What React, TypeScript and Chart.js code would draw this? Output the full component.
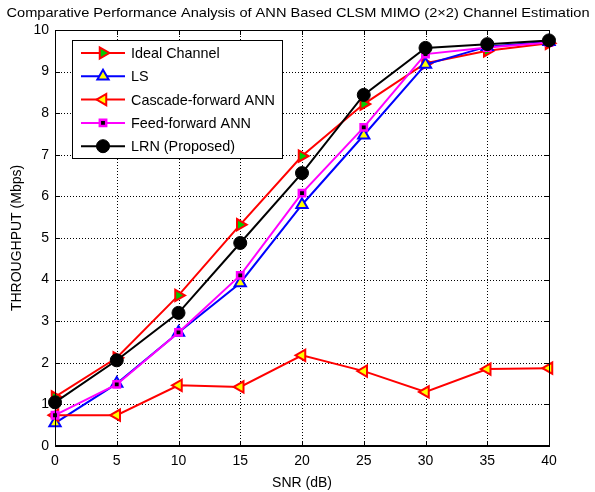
import React, { useEffect, useRef } from "react";
import { Chart, registerables } from "chart.js";

Chart.register(...registerables);

const snr = [0, 5, 10, 15, 20, 25, 30, 35, 40];
const idealChannel = [1.18, 2.12, 3.62, 5.32, 6.97, 8.22, 9.2, 9.5, 9.68];
const lsValues = [0.55, 1.5, 2.73, 3.92, 5.8, 7.47, 9.17, 9.6, 9.72];
const cascadeAnn = [0.74, 0.74, 1.46, 1.42, 2.18, 1.8, 1.3, 1.85, 1.87];
const feedAnn = [0.74, 1.48, 2.73, 4.1, 6.08, 7.66, 9.42, 9.58, 9.7];
const lrnValues = [1.05, 2.06, 3.2, 4.88, 6.56, 8.44, 9.57, 9.66, 9.75];

const seriesNames = ["Ideal Channel", "LS", "Cascade-forward ANN", "Feed-forward ANN", "LRN (Proposed)"];
const titleText = "Comparative Performance Analysis of ANN Based CLSM MIMO (2\u00d72) Channel Estimation";
const xTitle = "SNR (dB)";
const yTitle = "THROUGHPUT (Mbps)";

const FONT = "Arial, 'Liberation Sans', sans-serif";

type Style = { line: string; fill: string; stroke: string; shape: string; rot: number; r: number; bw: number };
const styles: Style[] = [
  { line: "#ff0000", fill: "#00cc00", stroke: "#ff0000", shape: "triangle", rot: 90, r: 6.5, bw: 2 },
  { line: "#0000ff", fill: "#ffff00", stroke: "#0000ff", shape: "triangle", rot: 0, r: 6.5, bw: 2 },
  { line: "#ff0000", fill: "#ffff00", stroke: "#ff0000", shape: "triangle", rot: -90, r: 6.5, bw: 2 },
  { line: "#ff00ff", fill: "#000000", stroke: "#ff00ff", shape: "rect", rot: 0, r: 4.5, bw: 2.5 },
  { line: "#000000", fill: "#000000", stroke: "#000000", shape: "circle", rot: 0, r: 6.5, bw: 1 },
];

function drawMarker(ctx: CanvasRenderingContext2D, s: Style, x: number, y: number) {
  ctx.save();
  ctx.fillStyle = s.fill;
  ctx.strokeStyle = s.stroke;
  ctx.lineWidth = s.bw;
  ctx.setLineDash([]);
  ctx.beginPath();
  if (s.shape === "circle") {
    ctx.arc(x, y, s.r, 0, Math.PI * 2);
  } else if (s.shape === "rect") {
    const h = s.r * Math.SQRT1_2;
    ctx.rect(x - h, y - h, 2 * h, 2 * h);
  } else {
    let a = (s.rot * Math.PI) / 180;
    for (let i = 0; i < 3; i++) {
      const px = x + Math.sin(a) * s.r;
      const py = y - Math.cos(a) * s.r;
      if (i === 0) ctx.moveTo(px, py);
      else ctx.lineTo(px, py);
      a += (2 * Math.PI) / 3;
    }
    ctx.closePath();
  }
  ctx.fill();
  ctx.stroke();
  ctx.restore();
}

const decorPlugin = {
  id: "decor",
  beforeDatasetsDraw(chart: any) {
    // dotted grid
    const { ctx, chartArea } = chart;
    const { left, right, top, bottom } = chartArea;
    const xs = chart.scales.x;
    const ys = chart.scales.y;
    ctx.save();
    ctx.strokeStyle = "#000";
    ctx.lineWidth = 1;
    ctx.setLineDash([1, 2]);
    ctx.beginPath();
    for (const v of snr) {
      const px = Math.round(xs.getPixelForValue(v)) + 0.5;
      ctx.moveTo(px, top);
      ctx.lineTo(px, bottom);
    }
    for (let v = 0; v <= 10; v++) {
      const py = Math.round(ys.getPixelForValue(v)) + 0.5;
      ctx.moveTo(left, py);
      ctx.lineTo(right, py);
    }
    ctx.stroke();
    ctx.restore();
  },
  afterDatasetsDraw(chart: any) {
    const { ctx, chartArea } = chart;
    const { left, right, top, bottom } = chartArea;
    const xs = chart.scales.x;
    const ys = chart.scales.y;
    ctx.save();
    // box
    ctx.strokeStyle = "#000";
    ctx.lineWidth = 1;
    ctx.setLineDash([]);
    ctx.strokeRect(left + 0.5, top + 0.5, right - left, bottom - top);
    ctx.lineWidth = 2;
    ctx.beginPath();
    ctx.moveTo(left, bottom);
    ctx.lineTo(right + 1, bottom);
    ctx.stroke();
    // inward ticks
    ctx.lineWidth = 1;
    ctx.beginPath();
    for (const v of snr) {
      const px = Math.round(xs.getPixelForValue(v)) + 0.5;
      ctx.moveTo(px, bottom);
      ctx.lineTo(px, bottom - 5);
      ctx.moveTo(px, top);
      ctx.lineTo(px, top + 5);
    }
    for (let v = 0; v <= 10; v++) {
      const py = Math.round(ys.getPixelForValue(v)) + 0.5;
      ctx.moveTo(left, py);
      ctx.lineTo(left + 5, py);
      ctx.moveTo(right, py);
      ctx.lineTo(right - 5, py);
    }
    ctx.stroke();

    // legend
    const lx = 72, ly = 40, lw = 210, lh = 118;
    ctx.fillStyle = "#fff";
    ctx.fillRect(lx, ly, lw, lh);
    ctx.strokeStyle = "#000";
    ctx.lineWidth = 1;
    ctx.strokeRect(lx + 0.5, ly + 0.5, lw, lh);
    ctx.font = `14.4px ${FONT}`;
    ctx.textBaseline = "middle";
    ctx.textAlign = "left";
    seriesNames.forEach((name, i) => {
      const s = styles[i];
      const cy = ly + 13 + i * 23.3;
      ctx.strokeStyle = s.line;
      ctx.lineWidth = 2;
      ctx.beginPath();
      ctx.moveTo(81, cy);
      ctx.lineTo(125, cy);
      ctx.stroke();
      drawMarker(ctx, s, 103, cy);
      ctx.fillStyle = "#000";
      ctx.fillText(name, 131, cy + 1);
    });

    // titles
    ctx.fillStyle = "#000";
    ctx.font = `13px ${FONT}`;
    ctx.textAlign = "center";
    ctx.textBaseline = "middle";
    const tw = ctx.measureText(titleText).width;
    const target = 583;
    ctx.save();
    ctx.translate(298, 13);
    ctx.scale(target / tw, 1);
    ctx.fillText(titleText, 0, 0);
    ctx.restore();

    ctx.font = `14px ${FONT}`;
    ctx.fillText(xTitle, (left + right) / 2, 483);
    ctx.save();
    ctx.translate(17, (top + bottom) / 2);
    ctx.rotate(-Math.PI / 2);
    ctx.fillText(yTitle, 0, 0);
    ctx.restore();
    ctx.restore();
  },
};

export default function App() {
  const ref = useRef<HTMLCanvasElement | null>(null);
  useEffect(() => {
    if (!ref.current) return;
    const all = [idealChannel, lsValues, cascadeAnn, feedAnn, lrnValues];
    const datasets = all.map((vals, i) => {
      const s = styles[i];
      return {
        label: seriesNames[i],
        data: snr.map((x, j) => ({ x, y: vals[j] })),
        borderColor: s.line,
        borderWidth: 2,
        backgroundColor: s.fill,
        pointBackgroundColor: s.fill,
        pointBorderColor: s.stroke,
        pointBorderWidth: s.bw,
        pointRadius: s.r,
        pointStyle: s.shape,
        pointRotation: s.rot,
        tension: 0,
        clip: false as any,
        order: 5 - i,
      };
    });
    const chart = new Chart(ref.current, {
      type: "line",
      data: { datasets },
      options: {
        animation: false,
        responsive: false,
        maintainAspectRatio: false,
        layout: { padding: { top: 30, right: 46, left: 0, bottom: 0 } },
        plugins: { legend: { display: false }, title: { display: false }, tooltip: { enabled: false } },
        scales: {
          x: {
            type: "linear",
            min: 0,
            max: 40,
            ticks: { stepSize: 5, color: "#000", font: { size: 14, family: FONT }, padding: 7, maxRotation: 0 },
            grid: { display: false, drawTicks: false },
            border: { display: false },
            afterFit: (scale: any) => {
              scale.height = 46;
            },
          },
          y: {
            type: "linear",
            min: 0,
            max: 10,
            ticks: { stepSize: 1, color: "#000", font: { size: 14, family: FONT }, padding: 6 },
            grid: { display: false, drawTicks: false },
            border: { display: false },
            afterFit: (scale: any) => {
              scale.width = 55;
            },
          },
        },
      } as any,
      plugins: [decorPlugin],
    });
    return () => chart.destroy();
  }, []);
  return (
    <div style={{ position: "fixed", left: 0, top: 0, width: 595, height: 492, background: "#fff" }}>
      <canvas ref={ref} width={595} height={492} style={{ width: 595, height: 492 }} />
    </div>
  );
}
